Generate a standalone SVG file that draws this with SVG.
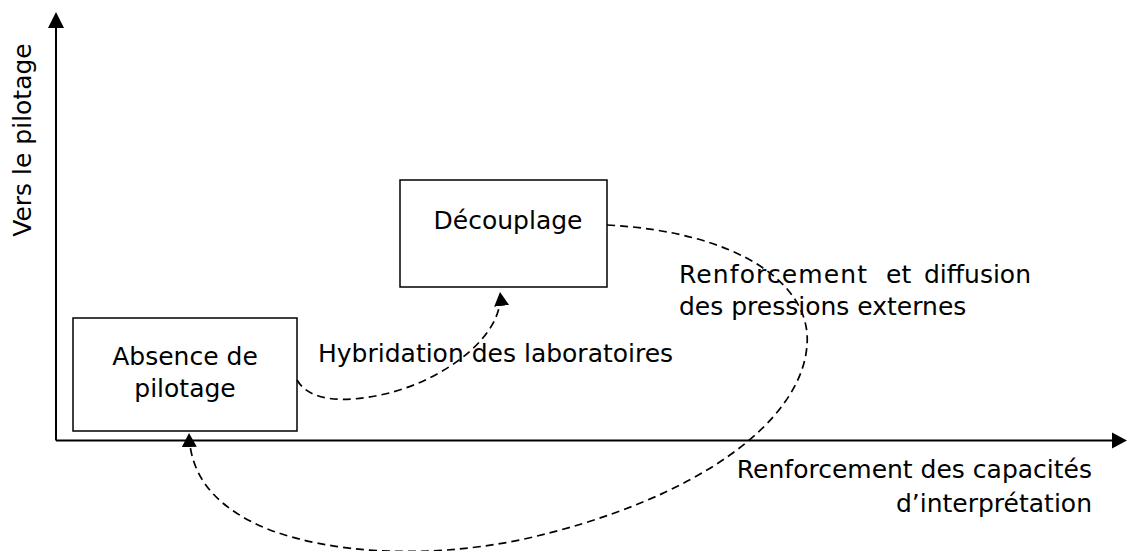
<svg xmlns="http://www.w3.org/2000/svg" width="1127" height="551" viewBox="0 0 1127 551">
<style>
.t{font-family:"DejaVu Sans","Liberation Sans",sans-serif;font-size:25px;fill:#000}
.box{fill:#fff;stroke:#000;stroke-width:1.5}
.axis{fill:none;stroke:#000;stroke-width:2}
.dash{fill:none;stroke:#000;stroke-width:1.7;stroke-dasharray:8,5}
</style>
<defs>
<marker id="ah" markerUnits="userSpaceOnUse" markerWidth="16" markerHeight="16" refX="14" refY="7.5" orient="auto" viewBox="0 0 16 16">
<path d="M0,0 L14,7.5 L0,15 z" fill="#000"/>
</marker>
</defs>
<g id="axes">
<path class="axis" d="M56,440.5 L56,26"/>
<path d="M56,12 L48,28 L64,28 z" fill="#000"/>
<path class="axis" d="M56,440.5 L1113,440.5"/>
<path d="M1127,440.5 L1112,432.5 L1112,448.5 z" fill="#000"/>
<text class="t" transform="translate(31,140) rotate(-90)" text-anchor="middle">Vers le pilotage</text>
<text class="t" x="1092" y="478" text-anchor="end">Renforcement des capacités</text>
<text class="t" x="1092" y="512" text-anchor="end">d’interprétation</text>
</g>
<g id="absence">
<rect class="box" x="73" y="318" width="224" height="113"/>
<text class="t" x="185" y="365" text-anchor="middle">Absence de</text>
<text class="t" x="185" y="397" text-anchor="middle">pilotage</text>
</g>
<g id="decouplage">
<rect class="box" x="400" y="180" width="207" height="107"/>
<text class="t" x="508" y="229" text-anchor="middle">Découplage</text>
</g>
<g id="connectors">
<path class="dash" d="M297,380 C 310,402 345,403 385,394 C 445,380 505,335 500,292" marker-end="url(#ah)"/>
<path class="dash" d="M607,225 C 740,232 812,285 807,345 C 802,420 700,500 520,540 C 420,560 330,552 270,530 C 220,510 190,480 189,433" marker-end="url(#ah)"/>
<text class="t" x="318" y="362">Hybridation des laboratoires</text>
<text class="t" y="283"><tspan x="679" textLength="188" lengthAdjust="spacing">Renforcement</tspan><tspan x="886">et</tspan><tspan x="924">diffusion</tspan></text>
<text class="t" x="679" y="315">des pressions externes</text>
</g>
</svg>
